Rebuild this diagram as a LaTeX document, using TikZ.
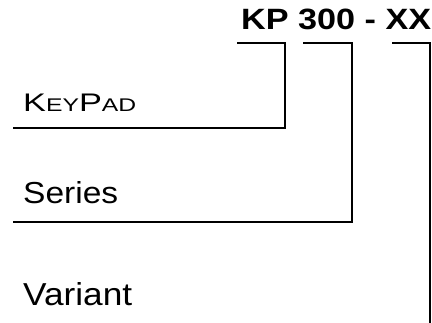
\documentclass[tikz,border=0pt]{standalone}
\usepackage{fontspec}
\setmainfont{Liberation Sans}
\usepackage{graphicx}
\begin{document}
\begin{tikzpicture}[x=1pt,y=-1pt,
  lead/.style={line width=1.6pt, line join=miter},
  lbl/.style={inner sep=0pt, anchor=base west}]
\useasboundingbox (0,0) rectangle (432,323);

% part number and its field labels
\node[lbl] (code) at (241,30) {\resizebox{190pt}{20.5pt}{\bfseries KP 300 - XX}};
\node[lbl] (keypad) at (23,112) {\resizebox{113pt}{17.5pt}{\fontsize{25}{25}\selectfont K\fontsize{18}{18}\selectfont EY\fontsize{25}{25}\selectfont P\fontsize{18}{18}\selectfont AD}};
\node[lbl] (series) at (23,203.5) {\resizebox{95pt}{22pt}{Series}};
\node[lbl] (variant) at (23,306) {\resizebox{109pt}{23pt}{Variant}};

% bracket ends under each field of the part number
\coordinate (kpA) at (237,43);
\coordinate (kpB) at (285,43);
\coordinate (kpC) at (13,128);
\coordinate (srA) at (303,43);
\coordinate (srB) at (352,43);
\coordinate (srC) at (13,222);
\coordinate (vrA) at (392,43);
\coordinate (vrB) at (430,43);
\coordinate (vrC) at (430,324);

\draw[lead] (kpA) -- (kpB) |- (kpC);
\draw[lead] (srA) -- (srB) |- (srC);
\draw[lead] (vrA) -- (vrB) -- (vrC);
\end{tikzpicture}
\end{document}
